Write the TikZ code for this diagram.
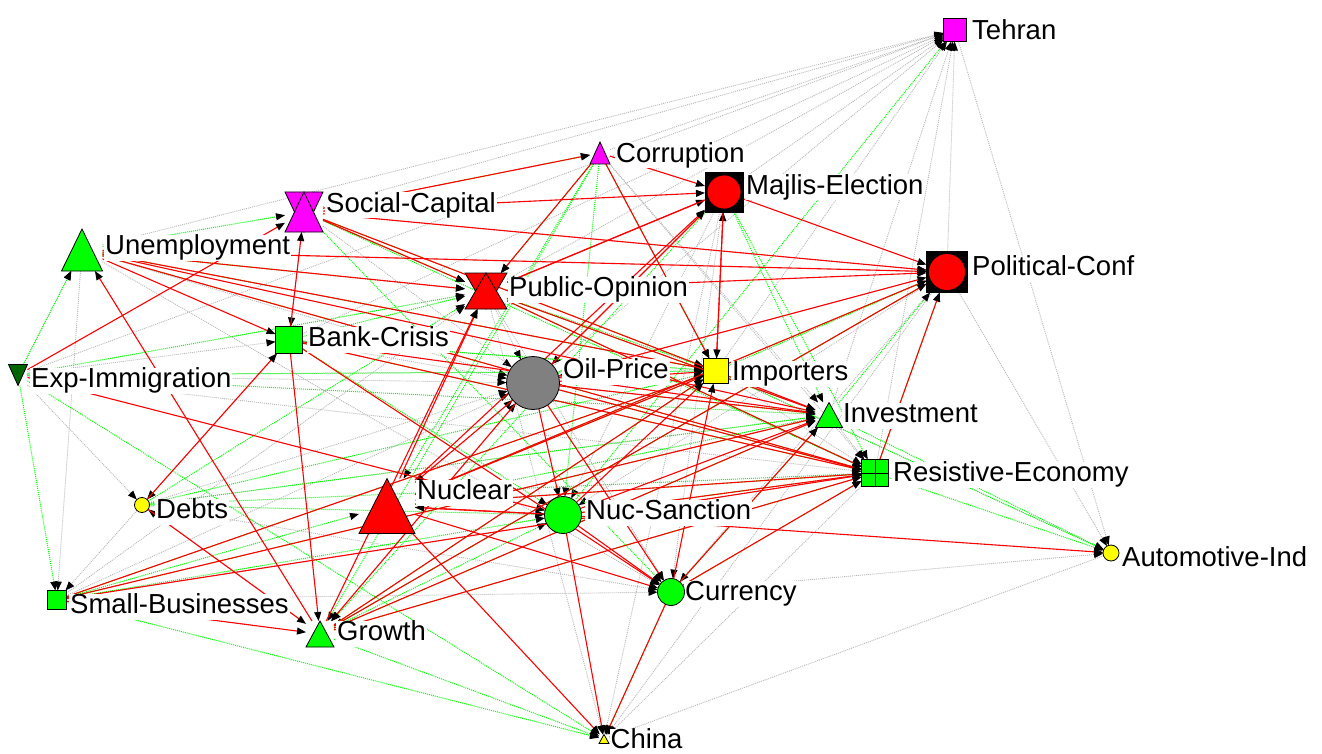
\documentclass[tikz,border=0pt]{standalone}
\usepackage{fontspec}
\setmainfont{Liberation Sans}
\usetikzlibrary{arrows.meta,backgrounds}
\definecolor{gr}{HTML}{00FF00}
\definecolor{rd}{HTML}{FF0000}
\definecolor{mg}{HTML}{FF00FF}
\definecolor{yl}{HTML}{FFFF00}
\definecolor{dg}{HTML}{006600}
\definecolor{gy}{HTML}{808080}
\definecolor{ltg}{HTML}{B8B8B8}
\begin{document}
\begin{tikzpicture}[x=1pt,y=-1pt,
  box/.style={rectangle, inner sep=0pt, outer sep=0pt, draw=none},
  sq/.style={rectangle, inner sep=0pt, outer sep=0pt, draw=black, line width=0.8pt, fill=#1},
  ci/.style={circle, inner sep=0pt, outer sep=0pt, draw=black, line width=0.8pt, fill=#1},
  lab/.style={anchor=west, fill=white, inner sep=1pt, font=\fontsize{27.5}{30}\selectfont, text height=19pt, text depth=5pt},
  tip/.style={-{Triangle[length=9pt,width=7pt,color=black]}},
  edgeR/.style={draw=rd, line width=1.1pt, tip},
  edgeG/.style={draw=gr, line width=1pt, dash pattern=on 1pt off 1pt, tip},
  edgeY/.style={draw=ltg, line width=0.9pt, dash pattern=on 1pt off 1pt, tip},
  shapeline/.style={draw=black, line width=0.8pt, line join=miter}
]
\useasboundingbox (0,0) rectangle (1322,754);

% labels
\node[lab] (teh-l) at (971,32.5) {Tehran};
\node[lab] (cor-l) at (615,155.5) {Corruption};
\node[lab] (maj-l) at (745,187.5) {Majlis-Election};
\node[lab] (soc-l) at (325,205.5) {Social-Capital};
\node[lab] (une-l) at (104,247.5) {Unemployment};
\node[lab] (pub-l) at (508,289.5) {Public-Opinion};
\node[lab] (pol-l) at (971,268.5) {Political-Conf};
\node[lab] (ban-l) at (307,339.5) {Bank-Crisis};
\node[lab] (exp-l) at (30,380.5) {Exp-Immigration};
\node[lab] (oil-l) at (562,371.5) {Oil-Price};
\node[lab] (imp-l) at (731,373.5) {Importers};
\node[lab] (inv-l) at (842,415.5) {Investment};
\node[lab] (res-l) at (892,474.5) {Resistive-Economy};
\node[lab] (deb-l) at (155,511.5) {Debts};
\node[lab] (nuc-l) at (416,492.5) {Nuclear};
\node[lab] (nsa-l) at (585,512.5) {Nuc-Sanction};
\node[lab] (aut-l) at (1121,559.5) {Automotive-Ind};
\node[lab] (sma-l) at (69,606.5) {Small-Businesses};
\node[lab] (cur-l) at (684,593.5) {Currency};
\node[lab] (gro-l) at (336,633.5) {Growth};
\node[lab, text depth=0pt, inner sep=0.5pt, anchor=base west] (chi-l) at (610,748) {China};

% shapes
\node[sq=mg, minimum width=23pt, minimum height=23pt] (teh) at (955,30) {};
\node[box, minimum width=20pt, minimum height=22pt] (cor) at (600,153) {};
\node[sq=black, minimum width=38pt, minimum height=40pt] (maj) at (724,192) {};
\node[ci=rd, minimum size=34pt] (maj-c) at (maj) {};
\node[box, minimum width=38pt, minimum height=40pt] (soc) at (304,212) {};
\node[box, minimum width=41pt, minimum height=42pt] (une) at (82,250) {};
\node[box, minimum width=42pt, minimum height=36pt] (pub) at (486,291) {};
\node[sq=black, minimum width=41pt, minimum height=41pt] (pol) at (947,272) {};
\node[ci=rd, minimum size=37pt] (pol-c) at (pol) {};
\node[sq=gr, minimum width=27pt, minimum height=27pt] (ban) at (289,340) {};
\node[box, minimum width=19pt, minimum height=21pt] (exp) at (18,375) {};
\node[ci=gy, minimum size=53pt] (oil) at (533,383) {};
\node[sq=yl, minimum width=25pt, minimum height=25pt] (imp) at (716,371) {};
\node[box, minimum width=27pt, minimum height=25pt] (inv) at (829,415) {};
\node[sq=gr, minimum width=27pt, minimum height=27pt] (res) at (875,473) {};
\draw[shapeline] (res.north) -- (res.south) (res.west) -- (res.east);
\node[ci=yl, minimum size=15pt] (deb) at (142,505) {};
\node[box, minimum width=56pt, minimum height=55pt] (nuc) at (387,506) {};
\node[ci=gr, minimum size=37pt] (nsa) at (563,515) {};
\node[ci=yl, minimum size=16pt] (aut) at (1111,553) {};
\node[sq=gr, minimum width=19pt, minimum height=19pt] (sma) at (57,600) {};
\node[ci=gr, minimum size=27pt] (cur) at (671,592) {};
\node[box, minimum width=28pt, minimum height=26pt] (gro) at (320,634) {};
\node[box, minimum width=10pt, minimum height=9pt] (chi) at (604,739) {};

\foreach \n/\c in {cor/mg, une/gr, inv/gr, nuc/rd, gro/gr, chi/yl}
  \filldraw[shapeline, fill=\c] (\n.south west) -- (\n.south east) -- (\n.north) -- cycle;
\filldraw[shapeline, fill=dg] (exp.north west) -- (exp.north east) -- (exp.south) -- cycle;
\foreach \n/\c in {soc/mg, pub/rd} {
  \filldraw[shapeline, fill=\c] (\n.north west) -- (\n.north east) -- (\n.south) -- cycle;
  \filldraw[shapeline, fill=\c] (\n.south west) -- (\n.south east) -- (\n.north) -- cycle;
}

\begin{scope}[on background layer]
\foreach \a/\b in {soc/teh, une/teh, cor/teh, pub/teh, ban/teh, maj/teh, pol/teh, imp/teh, inv/teh, res/teh, oil/teh, exp/teh,
  exp/une, exp/deb, une/sma, une/oil, soc/oil, ban/oil, deb/oil, deb/cur, sma/oil, sma/cur, gro/oil, nuc/oil,
  pol/aut, imp/aut, teh/aut, res/chi, aut/chi, cor/res, cor/inv, maj/cur, maj/nsa, pol/cur, pol/nsa, pub/cur, pub/chi,
  cur/aut, une/imp, une/pol, soc/pol, exp/res, exp/imp, deb/sma, exp/ban, ban/deb, gro/deb, soc/ban, ban/imp,
  pub/oil, maj/oil, pol/oil, imp/res, inv/res, pol/chi, maj/chi, sma/res, deb/inv, exp/oil, une/cur, sma/pub}
  \draw[edgeY] (\a) -- (\b);
\foreach \a/\b in {une/soc, soc/pub, cor/pub, une/pub, une/res, exp/une, exp/sma, exp/pub, exp/imp, exp/inv,
  ban/pub, ban/imp, deb/pub, deb/imp, deb/nsa, deb/res, sma/nuc, sma/nsa, sma/imp, sma/inv, sma/chi, gro/chi,
  gro/nsa, gro/res, gro/inv, exp/chi, nuc/inv, nuc/res, nsa/res, cur/res, cur/chi, imp/pol, inv/pol, res/pol,
  maj/inv, maj/res, cor/nsa, cor/nuc, pub/imp, pub/inv, inv/aut, res/aut, nsa/teh, cur/inv, soc/res, soc/cor,
  cor/gro, cor/imp, pub/res, oil/res, oil/inv, deb/inv, ban/nsa, une/imp, ban/res, pol/gro, pol/nuc, maj/gro,
  soc/imp, nuc/imp, gro/imp, imp/aut, soc/cur}
  \draw[edgeG] (\a) -- (\b);
\foreach \a/\b in {soc/pub, cor/maj, cor/pub, soc/maj, une/pol, une/pub, une/ban, exp/soc, gro/une, une/imp,
  une/inv, une/res, ban/gro, ban/soc, deb/ban, nuc/pub, gro/pub, oil/nsa, oil/cur, oil/gro, oil/nuc, nsa/cur,
  nsa/chi, nuc/chi, nuc/cur, nsa/aut, imp/maj, maj/imp, pub/maj, pub/pol, maj/pol, oil/pol, gro/imp, gro/inv,
  gro/res, sma/gro, sma/imp, nuc/imp, nuc/res, exp/nsa, pub/inv, pub/res, ban/res, ban/inv, oil/imp, oil/inv,
  oil/res, nsa/res, nsa/inv, nsa/imp, cur/imp, cur/inv, cur/res, soc/cor, cor/imp, maj/pub, nuc/pol, soc/pol,
  nuc/nsa, nsa/nuc, nuc/maj, ban/cur, soc/inv, deb/gro, cur/chi, sma/res, gro/pol, sma/inv, res/pol, oil/maj}
  \draw[edgeR] (\a) -- (\b);
\end{scope}
\end{tikzpicture}
\end{document}
